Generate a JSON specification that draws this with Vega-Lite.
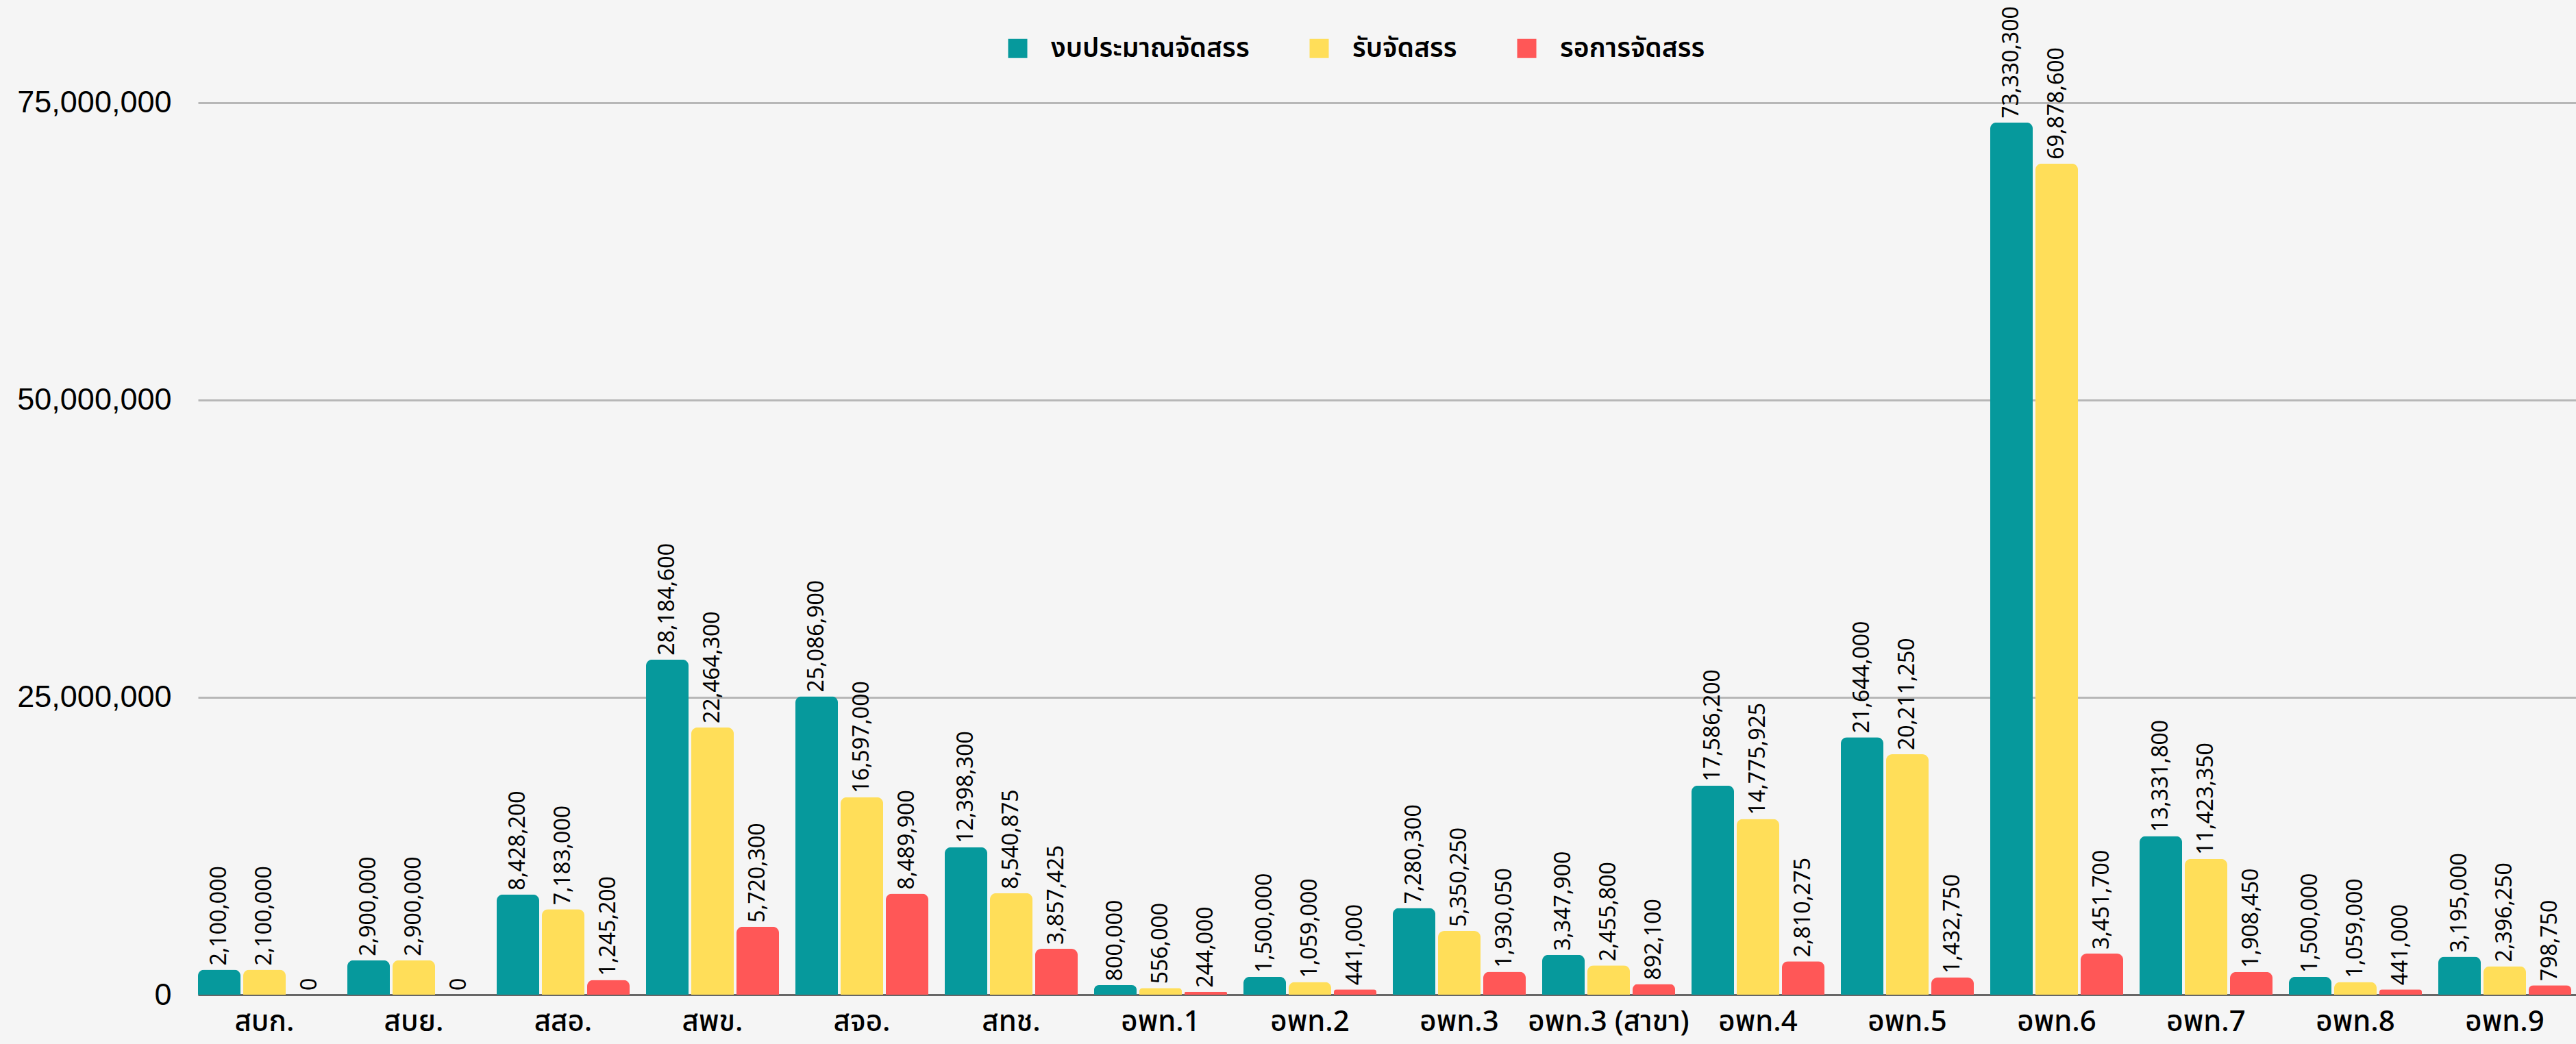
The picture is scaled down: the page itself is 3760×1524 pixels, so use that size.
{
  "$schema": "https://vega.github.io/schema/vega-lite/v6.json",
  "autosize": {"type": "none"},
  "width": 3471,
  "height": 1389,
  "padding": {"left": 289, "top": 63, "right": 0, "bottom": 72},
  "background": "#f5f5f5",
  "config": {
    "view": {"stroke": null},
    "font": "Noto Sans"
  },
  "data": {
    "values": [
      {"org": "สบก.", "series": "งบประมาณจัดสรร", "value": 2100000},
      {"org": "สบก.", "series": "รับจัดสรร", "value": 2100000},
      {"org": "สบก.", "series": "รอการจัดสรร", "value": 0},
      {"org": "สบย.", "series": "งบประมาณจัดสรร", "value": 2900000},
      {"org": "สบย.", "series": "รับจัดสรร", "value": 2900000},
      {"org": "สบย.", "series": "รอการจัดสรร", "value": 0},
      {"org": "สสอ.", "series": "งบประมาณจัดสรร", "value": 8428200},
      {"org": "สสอ.", "series": "รับจัดสรร", "value": 7183000},
      {"org": "สสอ.", "series": "รอการจัดสรร", "value": 1245200},
      {"org": "สพข.", "series": "งบประมาณจัดสรร", "value": 28184600},
      {"org": "สพข.", "series": "รับจัดสรร", "value": 22464300},
      {"org": "สพข.", "series": "รอการจัดสรร", "value": 5720300},
      {"org": "สจอ.", "series": "งบประมาณจัดสรร", "value": 25086900},
      {"org": "สจอ.", "series": "รับจัดสรร", "value": 16597000},
      {"org": "สจอ.", "series": "รอการจัดสรร", "value": 8489900},
      {"org": "สทช.", "series": "งบประมาณจัดสรร", "value": 12398300},
      {"org": "สทช.", "series": "รับจัดสรร", "value": 8540875},
      {"org": "สทช.", "series": "รอการจัดสรร", "value": 3857425},
      {"org": "อพท.1", "series": "งบประมาณจัดสรร", "value": 800000},
      {"org": "อพท.1", "series": "รับจัดสรร", "value": 556000},
      {"org": "อพท.1", "series": "รอการจัดสรร", "value": 244000},
      {"org": "อพท.2", "series": "งบประมาณจัดสรร", "value": 1500000},
      {"org": "อพท.2", "series": "รับจัดสรร", "value": 1059000},
      {"org": "อพท.2", "series": "รอการจัดสรร", "value": 441000},
      {"org": "อพท.3", "series": "งบประมาณจัดสรร", "value": 7280300},
      {"org": "อพท.3", "series": "รับจัดสรร", "value": 5350250},
      {"org": "อพท.3", "series": "รอการจัดสรร", "value": 1930050},
      {"org": "อพท.3 (สาขา)", "series": "งบประมาณจัดสรร", "value": 3347900},
      {"org": "อพท.3 (สาขา)", "series": "รับจัดสรร", "value": 2455800},
      {"org": "อพท.3 (สาขา)", "series": "รอการจัดสรร", "value": 892100},
      {"org": "อพท.4", "series": "งบประมาณจัดสรร", "value": 17586200},
      {"org": "อพท.4", "series": "รับจัดสรร", "value": 14775925},
      {"org": "อพท.4", "series": "รอการจัดสรร", "value": 2810275},
      {"org": "อพท.5", "series": "งบประมาณจัดสรร", "value": 21644000},
      {"org": "อพท.5", "series": "รับจัดสรร", "value": 20211250},
      {"org": "อพท.5", "series": "รอการจัดสรร", "value": 1432750},
      {"org": "อพท.6", "series": "งบประมาณจัดสรร", "value": 73330300},
      {"org": "อพท.6", "series": "รับจัดสรร", "value": 69878600},
      {"org": "อพท.6", "series": "รอการจัดสรร", "value": 3451700},
      {"org": "อพท.7", "series": "งบประมาณจัดสรร", "value": 13331800},
      {"org": "อพท.7", "series": "รับจัดสรร", "value": 11423350},
      {"org": "อพท.7", "series": "รอการจัดสรร", "value": 1908450},
      {"org": "อพท.8", "series": "งบประมาณจัดสรร", "value": 1500000},
      {"org": "อพท.8", "series": "รับจัดสรร", "value": 1059000},
      {"org": "อพท.8", "series": "รอการจัดสรร", "value": 441000},
      {"org": "อพท.9", "series": "งบประมาณจัดสรร", "value": 3195000},
      {"org": "อพท.9", "series": "รับจัดสรร", "value": 2396250},
      {"org": "อพท.9", "series": "รอการจัดสรร", "value": 798750}
    ]
  },
  "encoding": {
    "x": {
      "field": "org",
      "type": "nominal",
      "sort": null,
      "scale": {"paddingInner": 0.11, "paddingOuter": 0.016, "align": 0},
      "axis": {
        "title": null,
        "labelAngle": 0,
        "ticks": false,
        "domainColor": "#666666",
        "domainWidth": 3,
        "labelFont": "Noto Sans Thai",
        "labelFontSize": 42,
        "labelFontWeight": 500,
        "labelColor": "#000000",
        "labelBaseline": "alphabetic",
        "labelPadding": 52,
        "labelLimit": 0
      }
    },
    "xOffset": {
      "field": "series",
      "type": "nominal",
      "sort": ["งบประมาณจัดสรร", "รับจัดสรร", "รอการจัดสรร"],
      "scale": {"paddingInner": 0.06}
    },
    "y": {
      "field": "value",
      "type": "quantitative",
      "scale": {"domain": [0, 80000000], "nice": false},
      "axis": {
        "title": null,
        "values": [0, 25000000, 50000000, 75000000],
        "format": ",.0f",
        "domain": false,
        "ticks": false,
        "gridColor": "#b7b7b7",
        "gridWidth": 3,
        "labelFont": "Liberation Sans",
        "labelFontSize": 45,
        "labelColor": "#000000",
        "labelPadding": 39,
        "labelLimit": 0
      }
    }
  },
  "layer": [
    {
      "mark": {"type": "bar", "cornerRadiusTopLeft": 9, "cornerRadiusTopRight": 9},
      "encoding": {
        "color": {
          "field": "series",
          "type": "nominal",
          "sort": ["งบประมาณจัดสรร", "รับจัดสรร", "รอการจัดสรร"],
          "scale": {
            "domain": ["งบประมาณจัดสรร", "รับจัดสรร", "รอการจัดสรร"],
            "range": ["#06999c", "#ffde59", "#ff5757"]
          },
          "legend": {
            "title": null,
            "orient": "none",
            "direction": "horizontal",
            "legendX": 1177,
            "legendY": -12,
            "padding": 0,
            "symbolType": "square",
            "symbolSize": 784,
            "symbolStrokeWidth": 0,
            "symbolOpacity": 1,
            "labelFont": "Noto Sans Thai",
            "labelFontSize": 39,
            "labelFontWeight": 600,
            "labelColor": "#000000",
            "labelOffset": 29,
            "columnPadding": 82,
            "labelLimit": 600
          }
        }
      }
    },
    {
      "mark": {
        "type": "text",
        "angle": 270,
        "align": "left",
        "baseline": "middle",
        "dx": 6,
        "font": "Noto Sans",
        "fontSize": 32,
        "color": "#000000"
      },
      "encoding": {
        "text": {"field": "value", "type": "quantitative", "format": ","}
      }
    }
  ]
}
